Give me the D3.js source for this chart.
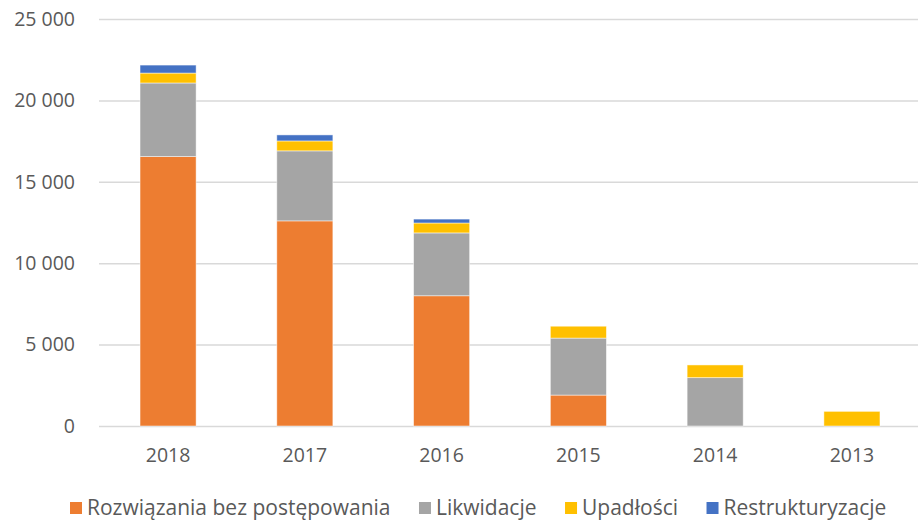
<!DOCTYPE html>
<html>
<head>
<meta charset="utf-8">
<script src="https://cdn.jsdelivr.net/npm/d3@7"></script>
<style>
	body { margin: 0; background: #fff; }
	svg { display: block; }
</style>
</head>
<body>
<script>
const years = ["2018", "2017", "2016", "2015", "2014", "2013"];
const seriesNames = ["Rozwiązania bez postępowania", "Likwidacje", "Upadłości", "Restrukturyzacje"];
const seriesColors = ["#ed7d31", "#a5a5a5", "#ffc000", "#4472c4"];
const rozwiazania = [16550, 12600, 8000, 1900, 0, 0];
const likwidacje = [4520, 4300, 3860, 3500, 2970, 0];
const upadlosci = [610, 610, 610, 730, 780, 900];
const restrukturyzacje = [490, 370, 240, 0, 0, 0];
const yTicks = [0, 5000, 10000, 15000, 20000, 25000];

const width = 918, height = 522;
const margin = {top: 19, right: -3, bottom: 96, left: 99};
const fontColor = "#595959";
const font = "'Open Sans', sans-serif";

const table = years.map((year, i) => ({
	year,
	[seriesNames[0]]: rozwiazania[i],
	[seriesNames[1]]: likwidacje[i],
	[seriesNames[2]]: upadlosci[i],
	[seriesNames[3]]: restrukturyzacje[i]
}));

const stack = d3.stack().keys(seriesNames)(table);

const x = d3.scaleBand()
	.domain(years)
	.range([margin.left, width - margin.right])
	.paddingInner(0.59)
	.paddingOuter(0.3);

const y = d3.scaleLinear()
	.domain([0, 25000])
	.range([height - margin.bottom, margin.top]);

const fmt = v => d3.format(",")(v).replace(/,/g, " ");

const svg = d3.select("body").append("svg")
	.attr("width", width)
	.attr("height", height)
	.attr("font-family", font);

// gridlines
svg.append("g")
		.attr("transform", `translate(${margin.left},0)`)
		.call(d3.axisLeft(y).tickValues(yTicks).tickSize(-(width - margin.left - margin.right)).tickFormat(fmt).tickPadding(24))
		.call(g => g.select(".domain").remove())
		.call(g => g.selectAll(".tick line").attr("stroke", "#d9d9d9").attr("stroke-width", 1.5))
		.call(g => g.selectAll(".tick text").attr("fill", fontColor).attr("font-size", 19.5).attr("font-family", font));

// bars
svg.append("g")
	.selectAll("g")
	.data(stack)
	.join("g")
		.attr("fill", (d, i) => seriesColors[i])
	.selectAll("rect")
	.data(d => d.filter(s => s[1] - s[0] > 0))
	.join("rect")
		.attr("x", d => x(d.data.year))
		.attr("y", d => y(d[1]))
		.attr("width", x.bandwidth())
		.attr("height", d => y(d[0]) - y(d[1]))
		.attr("stroke", "#ffffff")
		.attr("stroke-opacity", 0.6)
		.attr("stroke-width", 0.8);

// x axis
svg.append("g")
		.attr("transform", `translate(0,${height - margin.bottom})`)
		.call(d3.axisBottom(x).tickSize(0).tickPadding(22))
		.call(g => g.select(".domain").remove())
		.call(g => g.selectAll(".tick text").attr("fill", fontColor).attr("font-size", 19.5).attr("font-family", font));

// legend
const legend = svg.append("g")
		.attr("font-size", 21)
		.attr("fill", fontColor);

const items = legend.selectAll("g")
	.data(seriesNames)
	.join("g");

items.append("rect")
	.attr("width", 12)
	.attr("height", 12)
	.attr("y", -13)
	.attr("fill", (d, i) => seriesColors[i]);

items.append("text")
	.attr("x", 17)
	.text(d => d);

let cursor = 0;
const offsets = [];
items.each(function () {
	offsets.push(cursor);
	const w = 17 + this.querySelector("text").getComputedTextLength();
	cursor += w + 28.5;
});
const start = 70;
items.attr("transform", (d, i) => `translate(${start + offsets[i]},515)`);
</script>
</body>
</html>
